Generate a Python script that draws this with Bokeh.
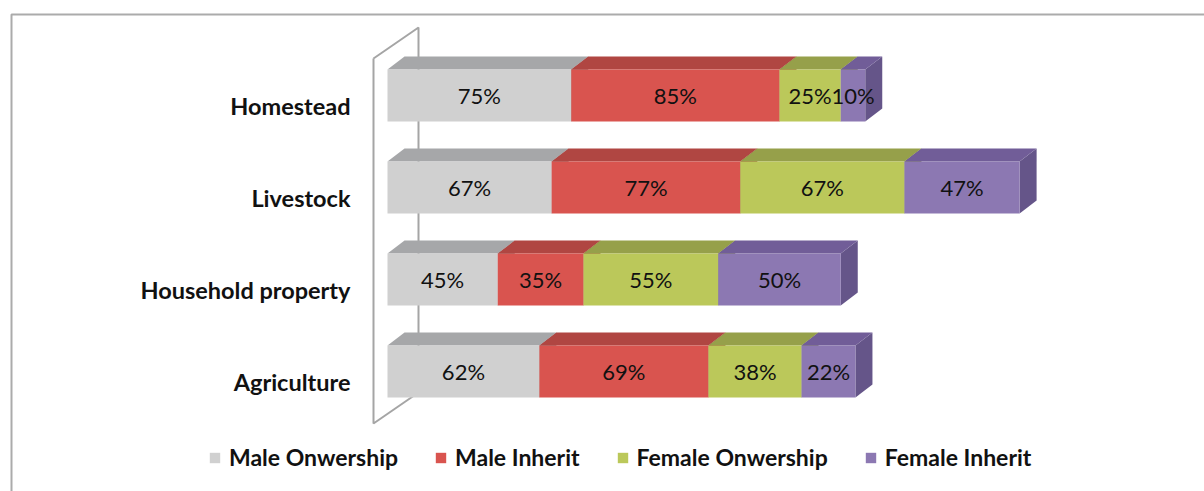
from bokeh.plotting import figure
from bokeh.models import Range1d, Legend, LegendItem, ColumnDataSource
from bokeh.core.properties import value
from bokeh.embed import file_html
from bokeh.resources import INLINE

# Survey shares (%) by asset type
categories = ["Homestead", "Livestock", "Household property", "Agriculture"]
series_names = ["Male Onwership", "Male Inherit", "Female Onwership", "Female Inherit"]
male_ownership = [75, 67, 45, 62]
male_inherit = [85, 77, 35, 69]
female_ownership = [25, 67, 55, 38]
female_inherit = [10, 47, 50, 22]
series_values = [male_ownership, male_inherit, female_ownership, female_inherit]

# Face shades: front, top (darker), side (darkest)
front_colors = ["#D0D0D0", "#D9544F", "#BBC85A", "#8C78B2"]
top_colors = ["#A6A7A9", "#B04642", "#96A04A", "#715D98"]
side_colors = ["#8E8E8E", "#963B38", "#7E8740", "#655589"]

# Canvas geometry
W, H = 1204, 491
PX_PER_PCT = 2.45
ORIGIN_X = 387
ROW0_Y = 95
ROW_STEP = 92


def fx(px):
    return (px - ORIGIN_X) / PX_PER_PCT


def fy(py):
    return (py - ROW0_Y) / ROW_STEP


BAR_H = 52 / ROW_STEP
DX = 17 / PX_PER_PCT
DY = -13 / ROW_STEP

p = figure(width=W, height=H,
           x_range=Range1d(fx(0), fx(W)),
           y_range=Range1d(fy(H), fy(0)),
           output_backend="svg", toolbar_location=None,
           x_axis_location=None, y_axis_location=None,
           min_border=0, min_border_left=0, min_border_right=0,
           min_border_top=0, min_border_bottom=0)
p.grid.visible = False
p.outline_line_color = None
p.background_fill_color = "white"
p.border_fill_color = "white"

# Chart area border
p.line(x=[fx(11), fx(11), fx(W + 20)], y=[fy(H + 20), fy(14), fy(14)],
       line_color="#ABABAB", line_width=2)

# Back wall of the 3D category axis
wall_x = [fx(373), fx(418), fx(418), fx(373), fx(373)]
wall_y = [fy(58), fy(27), fy(392), fy(423), fy(58)]
p.line(x=wall_x, y=wall_y, line_color="#A5A5A5", line_width=2)

rows = list(range(len(categories)))
cum = [0.0] * len(categories)
legend_items = []
for k, vals in enumerate(series_values):
    left = cum[:]
    right = [l + v for l, v in zip(left, vals)]
    cum = right
    top_edge = [r - BAR_H / 2 for r in rows]
    bot_edge = [r + BAR_H / 2 for r in rows]

    side_xs = [[r, r + DX, r + DX, r] for r in right]
    side_ys = [[t, t + DY, b + DY, b] for t, b in zip(top_edge, bot_edge)]
    p.patches(xs=side_xs, ys=side_ys, fill_color=side_colors[k], line_color=None)

    top_xs = [[l, r, r + DX, l + DX] for l, r in zip(left, right)]
    top_ys = [[t, t, t + DY, t + DY] for t in top_edge]
    p.patches(xs=top_xs, ys=top_ys, fill_color=top_colors[k], line_color=None)

    src = ColumnDataSource(dict(
        y=rows, left=left, right=right,
        mid=[(l + r) / 2 for l, r in zip(left, right)],
        label=[f"{v}%" for v in vals]))
    front = p.hbar(y="y", left="left", right="right", height=BAR_H, source=src,
                   fill_color=front_colors[k], line_color=None)
    legend_items.append(LegendItem(label=series_names[k], renderers=[front]))
    p.text(x="mid", y="y", text="label", source=src,
           text_align="center", text_baseline="middle",
           text_font=value("Lato"), text_font_size="22px", text_color="#111111")

# Category labels
p.text(x=[fx(350)] * len(categories), y=[r + 0.11 for r in rows], text=categories,
       text_align="right", text_baseline="middle",
       text_font=value("Lato"), text_font_size="23.5px", text_font_style="bold",
       text_color="#111111")

legend = Legend(items=legend_items, orientation="horizontal",
                location=(208, 20), spacing=36,
                glyph_width=13, glyph_height=13, label_standoff=8,
                label_text_font="Lato", label_text_font_size="23px",
                label_text_font_style="bold",
                label_text_color="#111111",
                border_line_color=None, background_fill_alpha=0,
                padding=0, margin=0)
p.add_layout(legend)

open("out.html", "w").write(file_html(p, INLINE))
